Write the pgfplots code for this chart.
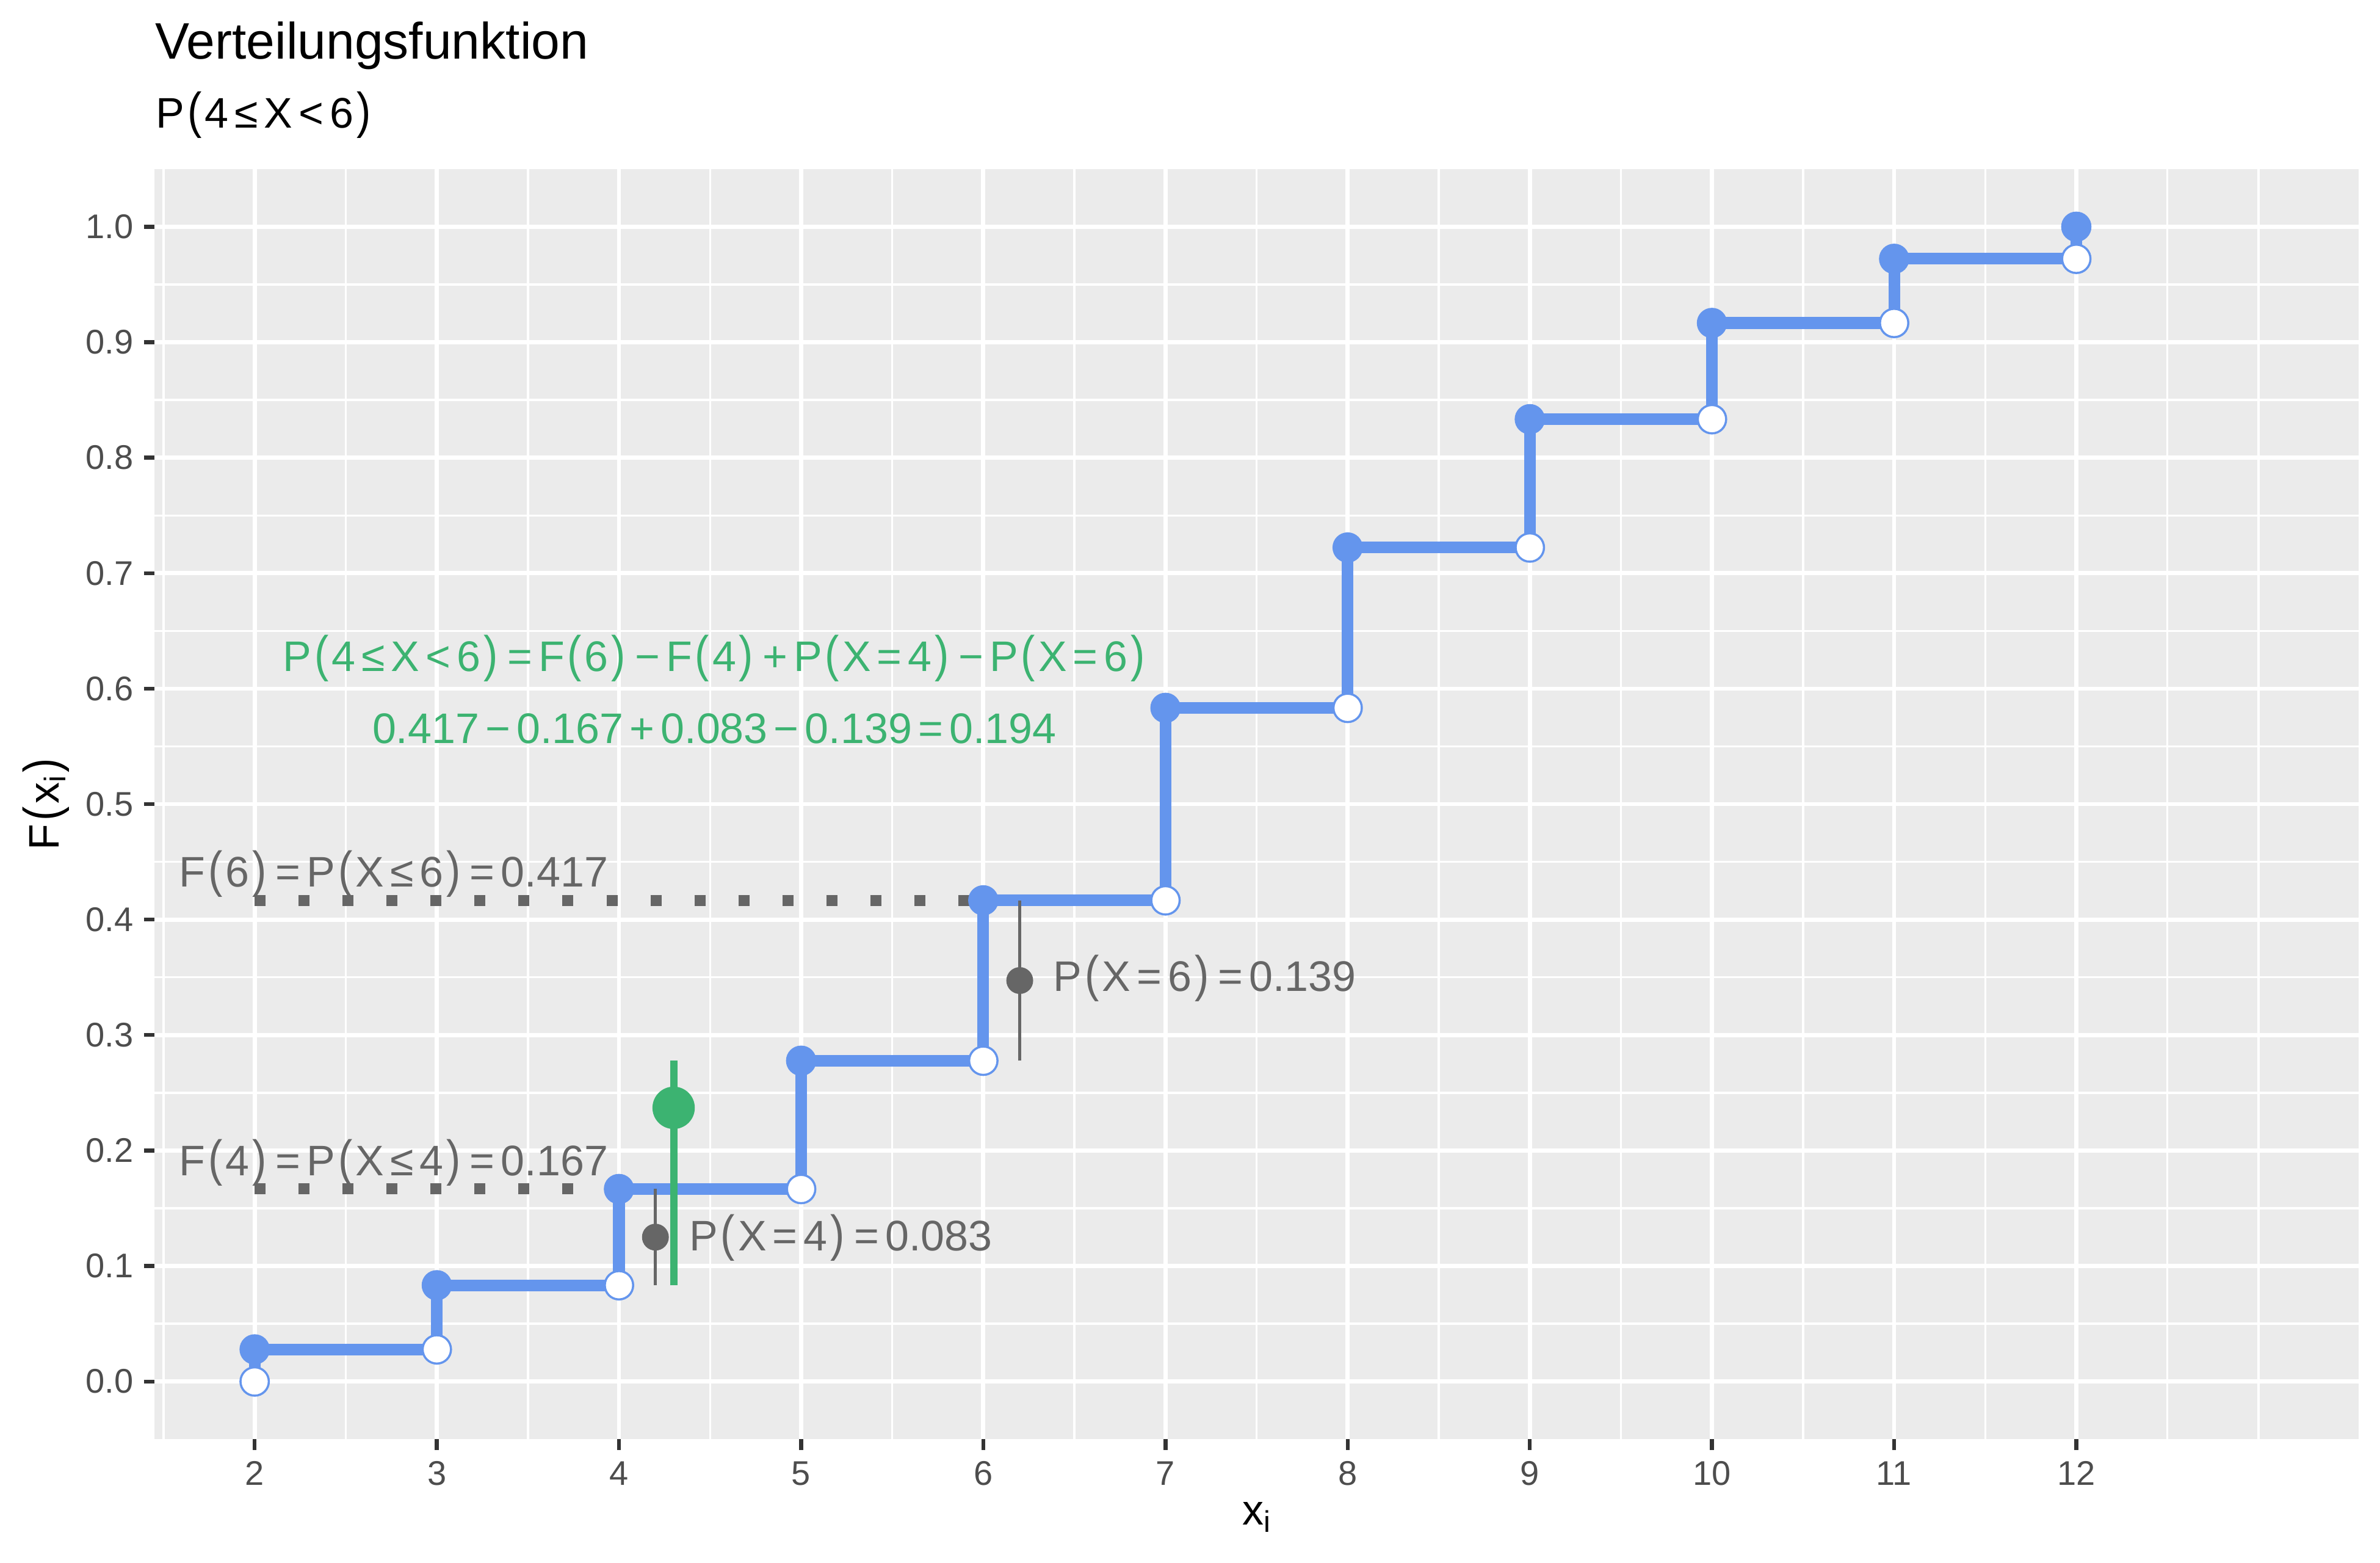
\documentclass[border=0pt]{standalone}
\usepackage{fontspec}
\setmainfont{Liberation Sans}
\usepackage{graphicx}
\usepackage{pgfplots}
\usepackage{pgfplotstable}
\pgfplotsset{compat=1.18}
\definecolor{panel}{HTML}{EBEBEB}
\definecolor{cblue}{HTML}{6495ED}
\definecolor{cgreen}{HTML}{3CB371}
\definecolor{cgray}{HTML}{666666}
\definecolor{ticklab}{HTML}{4D4D4D}
\definecolor{tickcol}{HTML}{333333}
\newcommand{\lp}{\hspace{0.07em}\scalebox{1}[1.17]{(}\hspace{0.07em}}
\newcommand{\rp}{\hspace{0.07em}\scalebox{1}[1.17]{)}\hspace{0.07em}}
\newcommand{\op}[1]{\hspace{0.145em}#1\hspace{0.145em}}
\newcommand{\ann}{\fontsize{11}{13}\selectfont}

\pgfplotstableread{
x F Fprev
2 0.027778 0
3 0.083333 0.027778
4 0.166667 0.083333
5 0.277778 0.166667
6 0.416667 0.277778
7 0.583333 0.416667
8 0.722222 0.583333
9 0.833333 0.722222
10 0.916667 0.833333
11 0.972222 0.916667
12 1.000000 0.972222
}\cdf

\begin{document}
\begin{tikzpicture}
\begin{axis}[
  name=ax, at={(0,0)}, anchor=south west,
  width=567.4pt, height=326.9pt, scale only axis,
  xmin=1.45, xmax=13.55, ymin=-0.05, ymax=1.05,
  clip=false,
  axis background/.style={fill=panel},
  axis line style={draw=none},
  xtick={2,3,4,5,6,7,8,9,10,11,12},
  xticklabels={2,3,4,5,6,7,8,9,10,11,12},
  minor xtick={1.5,2.5,3.5,4.5,5.5,6.5,7.5,8.5,9.5,10.5,11.5,12.5,13},
  ytick={0,0.1,0.2,0.3,0.4,0.5,0.6,0.7,0.8,0.9,1.0},
  yticklabels={0.0,0.1,0.2,0.3,0.4,0.5,0.6,0.7,0.8,0.9,1.0},
  minor ytick={0.05,0.15,0.25,0.35,0.45,0.55,0.65,0.75,0.85,0.95},
  grid=both,
  major grid style={white, line width=1.07pt},
  minor grid style={white, line width=0.53pt},
  tick align=outside,
  xtick pos=bottom, ytick pos=left,
  major tick length=2.75pt, minor tick length=0pt,
  major tick style={tickcol, line width=1.0pt},
  ticklabel style={font=\fontsize{8.8}{10}\selectfont, text=ticklab, inner sep=0pt},
  xticklabel style={anchor=base, yshift=-9pt},
  yticklabel style={anchor=east, xshift=-2.45pt},
]
% step function
\addplot[cblue, line width=3pt, const plot mark left, forget plot] table[x=x,y=F] {\cdf};
\addplot[cblue, line width=3pt, forget plot] coordinates {(2,0) (2,0.027778)};
% filled points F(x_i)
\addplot[only marks, mark=*, mark size=3.8pt, cblue, mark options={draw=cblue, fill=cblue, line width=0.2pt}] table[x=x,y=F] {\cdf};
% open points F(x_{i-1})
\addplot[only marks, mark=*, mark size=3.65pt, mark options={draw=cblue, fill=white, line width=0.55pt}] table[x=x,y=Fprev] {\cdf};
% dotted reference lines
\addplot[cgray, line width=2.83pt, dash pattern=on 2.83pt off 8.49pt] coordinates {(2,0.416667) (6,0.416667)};
\addplot[cgray, line width=2.83pt, dash pattern=on 2.83pt off 8.49pt] coordinates {(2,0.166667) (4,0.166667)};
% P(X=4), P(X=6)
\addplot[cgray, line width=0.85pt] coordinates {(4.2,0.083333) (4.2,0.166667)};
\addplot[only marks, mark=*, mark size=3.25pt, cgray] coordinates {(4.2,0.125)};
\addplot[cgray, line width=0.85pt] coordinates {(6.2,0.277778) (6.2,0.416667)};
\addplot[only marks, mark=*, mark size=3.25pt, cgray] coordinates {(6.2,0.347222)};
% green: P(4<=X<6)
\addplot[cgreen, line width=1.9pt] coordinates {(4.3,0.083333) (4.3,0.277778)};
\addplot[only marks, mark=*, mark size=5.25pt, cgreen] coordinates {(4.3,0.237)};
% annotations
\node[anchor=base west, inner sep=0pt, text=cgray, font=\ann] at (axis cs:1.581,0.4283) {F\lp6\rp\op{=}P\lp X\op{≤}6\rp\op{=}0.417};
\node[anchor=base west, inner sep=0pt, text=cgray, font=\ann] at (axis cs:1.581,0.1783) {F\lp4\rp\op{=}P\lp X\op{≤}4\rp\op{=}0.167};
\node[anchor=base west, inner sep=0pt, text=cgray, font=\ann] at (axis cs:6.380,0.3382) {P\lp X\op{=}6\rp\op{=}0.139};
\node[anchor=base west, inner sep=0pt, text=cgray, font=\ann] at (axis cs:4.382,0.1134) {P\lp X\op{=}4\rp\op{=}0.083};
\node[anchor=base west, inner sep=0pt, text=cgreen, font=\ann] at (axis cs:2.151,0.6152) {P\lp4\op{≤}X\op{<}6\rp\op{=}F\lp6\rp\op{−}F\lp4\rp\op{+}P\lp X\op{=}4\rp\op{−}P\lp X\op{=}6\rp};
\node[anchor=base west, inner sep=0pt, text=cgreen, font=\ann] at (axis cs:2.642,0.5524) {0.417\op{−}0.167\op{+}0.083\op{−}0.139\op{=}0.194};
\end{axis}
% titles and axis titles
\node[anchor=base west, inner sep=0pt, font=\fontsize{13.2}{15}\selectfont] at (0pt,355.2pt) {Verteilungsfunktion};
\node[anchor=base west, inner sep=0pt, font=\ann] at (0.2pt,337.5pt) {P\lp4\op{≤}X\op{<}6\rp};
\node[anchor=base, inner sep=0pt, font=\ann] at (283.7pt,-22pt) {x\raisebox{-0.17em}{\fontsize{7.7}{8}\selectfont i}};
\node[anchor=base, inner sep=0pt, rotate=90, font=\ann] at (-24.67pt,163.45pt) {F\lp x\raisebox{-0.17em}{\fontsize{7.7}{8}\selectfont i}\rp};
\pgfresetboundingbox
\useasboundingbox (-39.76pt,-31.74pt) rectangle (572.9pt,370.4pt);
\end{tikzpicture}
\end{document}
